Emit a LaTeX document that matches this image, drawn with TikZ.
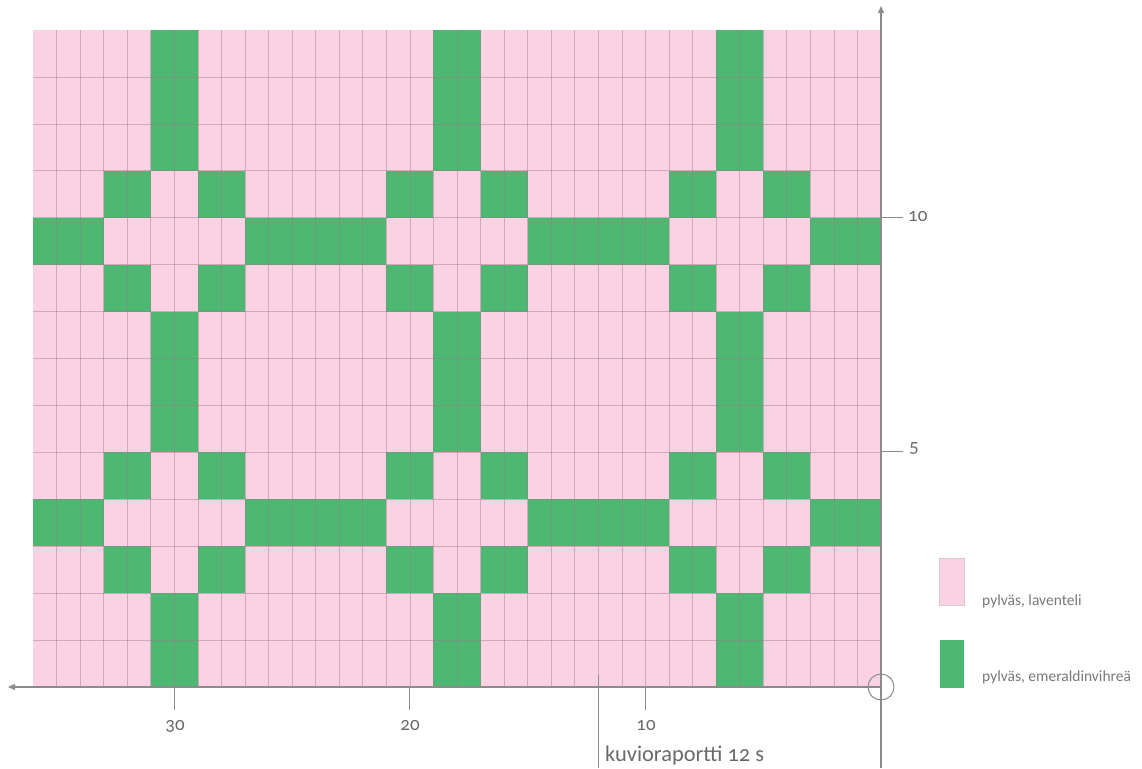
\documentclass[tikz,border=0pt]{standalone}
\usepackage{fontspec}
\setmainfont{Carlito}[Numbers=OldStyle]
\usetikzlibrary{arrows.meta}
\definecolor{lav}{RGB}{250,210,227}
\definecolor{emer}{RGB}{76,184,114}
\definecolor{gridc}{RGB}{160,120,140}
\definecolor{axisc}{RGB}{140,140,140}
\definecolor{txtc}{RGB}{105,105,105}
\definecolor{legc}{RGB}{120,120,120}
\begin{document}
\begin{tikzpicture}[x=1pt,y=-1pt,
  axisline/.style={draw=axisc,line width=1.3pt},
  tickline/.style={draw=axisc,line width=1.1pt},
  gridline/.style={draw=gridc,opacity=0.45,line width=0.6pt},
  numlbl/.style={text=txtc,font=\fontsize{19}{22}\selectfont,inner sep=0pt},
  leglbl/.style={text=legc,font=\fontsize{15.5}{18}\selectfont,inner sep=0pt,anchor=base west},
  arrowtip/.style={-{Triangle[length=7pt,width=6pt]}}]
\useasboundingbox (0,0) rectangle (1142,768);
% chart
\begin{scope}[xshift=33pt,yshift=-30pt,x=23.5556pt,y=-46.93pt]
  \fill[lav] (0,0) rectangle (36,14);
  \foreach \k in {0,12,24}{
    \fill[emer] (\k+5,0) rectangle (\k+7,3);
    \fill[emer] (\k+5,6) rectangle (\k+7,9);
    \fill[emer] (\k+5,12) rectangle (\k+7,14);
    \foreach \r in {3,5,9,11}{
      \fill[emer] (\k+3,\r) rectangle (\k+5,\r+1);
      \fill[emer] (\k+7,\r) rectangle (\k+9,\r+1);
    }
  }
  \foreach \r in {4,10}{
    \foreach \a/\b in {0/3,9/15,21/27,33/36}{
      \fill[emer] (\a,\r) rectangle (\b,\r+1);
    }
  }
  \foreach \c in {1,...,35} \draw[gridline] (\c,0) -- (\c,14);
  \foreach \r in {1,...,13} \draw[gridline] (0,\r) -- (36,\r);
\end{scope}
% axes
\coordinate (O) at (881,687);
\coordinate (xl) at (8,687);
\coordinate (yt) at (881,6);
\coordinate (yb) at (881,768);
\draw[axisline,arrowtip] (O) -- (xl);
\draw[axisline,arrowtip] (yb) -- (yt);
\node[circle,draw=axisc,line width=1pt,minimum size=26pt,inner sep=0pt] (oc) at (O) {};
% bottom ticks
\coordinate (b30) at (174.3,687); \coordinate (e30) at (174.3,710);
\coordinate (b20) at (409.9,687); \coordinate (e20) at (409.9,710);
\coordinate (b10) at (645.4,687); \coordinate (e10) at (645.4,710);
\draw[tickline] (b30) -- (e30);
\draw[tickline] (b20) -- (e20);
\draw[tickline] (b10) -- (e10);
\node[numlbl,anchor=base] (n30) at (175,730) {30};
\node[numlbl,anchor=base] (n20) at (410,730) {20};
\node[numlbl,anchor=base] (n10) at (646,730) {10};
% right ticks
\coordinate (r10a) at (881,217.7); \coordinate (r10b) at (903,217.7);
\coordinate (r5a) at (881,451.4); \coordinate (r5b) at (903,451.4);
\draw[tickline] (r10a) -- (r10b);
\draw[tickline] (r5a) -- (r5b);
\node[numlbl,anchor=base west] (m10) at (908,221) {10};
\node[numlbl,anchor=base west] (m5) at (909,452) {5};
% repeat bracket
\coordinate (ra) at (598.3,675);
\coordinate (rb) at (598.3,768);
\draw[tickline] (ra) -- (rb);
\node[numlbl,anchor=base west,font=\fontsize{22.4}{26}\selectfont] (rep) at (605,761.5) {kuvioraportti 12 s};
% legend
\node[fill=lav,draw=gridc!40,line width=0.4pt,minimum width=25pt,minimum height=47pt,inner sep=0pt,anchor=north west] (legp) at (938.5,558) {};
\node[fill=emer,minimum width=24pt,minimum height=48pt,inner sep=0pt,anchor=north west] (legg) at (939.5,640) {};
\node[leglbl] (tp) at (982,605) {pylväs, laventeli};
\node[leglbl] (tg) at (982,681) {pylväs, emeraldinvihreä};
\end{tikzpicture}
\end{document}
